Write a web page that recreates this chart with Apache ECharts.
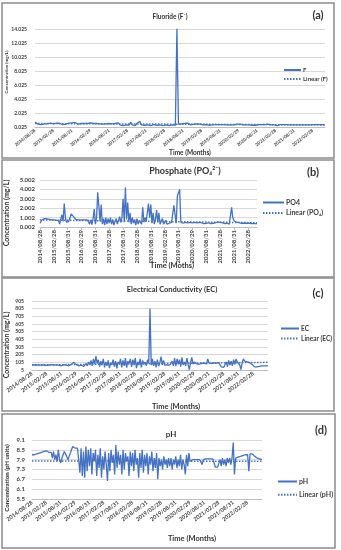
<!DOCTYPE html>
<html>
<head>
<meta charset="utf-8">
<script src="https://cdn.jsdelivr.net/npm/echarts@6/dist/echarts.min.js"></script>
<style>html,body{margin:0;padding:0;background:#fff;}#c{width:341px;height:550px;}</style>
</head>
<body>
<div id="c"></div>
<script>
const tickLabels = ['2014/08/28','2015/02/28','2015/08/31','2016/02/29','2016/08/31','2017/02/28','2017/08/31','2018/02/28','2018/08/31','2019/02/28','2019/08/31','2020/02/29','2020/08/31','2021/02/28','2021/08/31','2022/02/28'];

const F = [
0.7,0.55,0.4,0.3,0.35,0.4,0.45,0.5,0.45,0.5,0.55,0.5,
0.45,0.5,0.55,0.7,0.5,0.4,0.35,0.3,0.4,0.5,0.55,0.5,
0.6,0.7,0.65,0.5,0.4,0.45,0.5,0.55,0.5,0.45,0.5,0.55,
0.6,0.55,0.5,0.45,0.5,0.4,0.45,0.5,0.4,0.35,0.45,0.4,
0.5,0.3,0.45,0.25,0.5,0.35,0.6,0.3,0.45,0.2,0.4,0.3,
0.5,0.25,0.7,0.3,0.45,0.2,0.5,0.35,0.8,0.3,0.45,0.25,
0.5,0.3,0.4,0.2,0.45,0.35,0.5,0.25,0.4,0.3,0.45,0.2,
0.4,0.3,0.45,0.2,0.4,0.3,0.35,0.25,14.02,0.4,0.3,0.45,
0.35,0.5,0.4,0.55,0.45,0.3,0.5,0.4,0.35,0.45,0.3,0.4,
0.35,0.3,0.4,0.35,0.3,0.25,0.35,0.3,0.4,0.35,0.3,0.35,
0.4,0.35,0.3,0.35,0.4,0.3,0.35,0.3,0.25,0.3,0.35,0.4,
0.45,0.4,0.35,0.3,0.25,0.3,0.35,0.3,0.3,0.25,0.2,0.25,
0.3,0.35,0.4,0.35,0.3,0.35,0.45,0.4,0.35,0.3,0.35,0.3,
0.25,0.2,0.3,0.35,0.3,0.35,0.4,0.35,0.3,0.3,0.35,0.3,
0.25,0.3,0.35,0.3,0.25,0.3,0.35,0.3,0.25,0.3,0.35,0.3,
0.3,0.35,0.3,0.35,0.4,0.35,0.3,0.35,0.3];
const trendF = [0.5, 0.3];

const PO4 = [
0.4,0.6,0.8,0.9,0.9,0.85,0.85,0.8,0.8,0.8,0.75,0.75,
0.75,0.7,0.7,0.7,0.7,0.3,0.2,1.3,0.6,2.5,1.0,0.5,
0.3,0.6,1.0,1.4,1.3,1.1,0.9,0.8,0.8,0.75,0.7,0.75,
0.8,0.75,0.7,0.75,0.8,0.75,0.7,0.3,0.75,0.25,0.9,1.9,
0.3,1.0,3.7,2.2,0.6,2.4,0.3,0.9,0.2,1.0,0.3,0.9,
0.4,1.0,0.3,0.8,0.2,0.6,0.9,0.3,0.7,1.1,0.5,1.0,
3.0,0.5,4.2,0.8,2.6,0.5,1.5,0.3,1.0,0.4,0.8,0.2,
0.9,0.3,0.7,0.5,0.3,2.1,0.5,1.0,0.6,0.4,2.5,1.0,
2.4,0.4,1.5,0.3,0.8,1.8,0.5,1.5,0.3,0.6,0.9,0.3,
0.5,0.7,0.3,0.5,0.4,0.3,0.5,0.3,2.3,2.5,0.4,3.3,
3.4,4.0,0.5,0.3,0.4,0.35,0.5,0.3,0.45,0.35,0.5,0.3,
0.45,0.4,0.5,0.35,0.45,0.4,0.5,0.35,0.45,0.4,0.35,0.45,
0.4,0.35,0.45,0.4,0.35,0.45,0.4,0.5,0.45,0.4,0.55,0.75,
0.5,0.4,0.45,0.4,0.35,0.45,0.4,0.35,0.3,0.4,2.1,1.0,
0.7,0.55,0.5,0.45,0.5,0.45,0.4,0.45,0.4,0.35,0.4,0.45,
0.4,0.35,0.4,0.45,0.35,0.4,0.35,0.3,0.35];
const trendPO4 = [0.75, 0.45];

const EC = [
75,72,70,68,70,72,68,65,70,72,70,68,
65,60,70,72,75,70,68,72,75,70,65,55,
60,70,75,72,70,65,60,70,80,95,105,90,
75,65,60,55,70,60,50,75,90,60,110,70,
130,60,150,80,185,90,140,50,120,70,150,40,
110,60,130,30,100,70,140,50,120,25,110,80,
150,40,130,60,160,35,120,90,150,45,140,70,
160,30,110,70,150,40,130,80,110,60,140,90,
805,70,150,60,120,40,140,55,100,180,70,130,
70,75,70,72,68,70,120,60,160,55,150,80,
140,50,170,70,110,60,160,75,10,100,170,80,
110,90,85,95,80,100,90,85,95,90,85,150,
95,90,92,95,98,100,95,100,102,100,45,55,
40,60,110,50,130,70,120,60,140,80,150,110,
130,70,10,100,150,120,140,110,105,100,95,80,
60,45,40,45,50,52,55,58,55,60,62,60,
62];
const trendEC = [70, 105];

const PH = [
8.2,8.2,8.2,8.22,8.25,8.28,8.3,8.32,8.35,8.38,8.4,8.42,
8.44,8.4,8.35,8.3,8.35,8.0,8.4,7.9,8.2,7.8,8.5,7.9,
7.7,8.0,8.1,8.4,8.3,8.1,7.9,8.1,8.3,8.5,8.7,8.65,
8.6,8.55,8.6,8.5,7.1,8.6,6.9,8.4,6.8,8.7,7.2,8.5,
7.5,8.6,7.0,8.3,7.8,8.5,6.9,8.2,7.4,8.6,6.8,8.1,
7.3,8.4,7.6,6.6,8.3,7.2,8.5,7.7,8.2,7.0,8.8,7.4,
8.4,7.6,8.2,7.0,8.5,7.3,8.3,7.8,8.1,6.9,8.4,7.5,
8.3,7.2,8.5,7.6,8.0,6.8,8.3,7.4,8.5,7.1,8.2,7.5,
8.3,7.0,8.1,7.6,8.4,7.2,8.0,7.4,8.3,6.7,8.0,7.5,
7.9,7.3,8.1,7.6,7.9,7.4,8.0,7.5,8.0,7.3,7.9,7.6,
8.1,7.4,7.9,7.5,8.2,7.3,7.9,7.6,7.0,8.2,7.5,8.3,
7.8,7.9,7.9,7.9,7.9,7.9,7.9,7.9,7.9,7.9,7.6,7.9,
7.95,7.95,7.95,7.95,7.95,7.95,7.95,7.95,7.95,7.45,7.45,7.45,
7.45,7.9,7.5,8.0,7.6,7.9,7.5,8.0,7.7,8.0,7.6,8.0,
8.95,7.0,8.0,8.05,8.05,8.1,8.1,8.1,8.15,8.15,8.2,8.2,
8.2,7.2,8.25,8.3,8.25,8.2,8.1,8.05,8.0,8.0,7.95,7.95,
7.9];
const trendPH = [7.82, 7.8];

const FONT = 'Lato';
const BLUE = '#4472C4';
const TXT = '#404040';

function cats(n){ return Array.from({length:n},(_, i)=> (i%12===0 && tickLabels[i/12]) ? tickLabels[i/12] : ''); }
function trend(n, t){ const a = new Array(n).fill(null); a[0]=t[0]; a[n-1]=t[1]; return a; }

const grids = [
  {left:35, right:16, top:29, height:98},
  {left:40, right:84, top:180, height:47},
  {left:32, right:73, top:301, height:69},
  {left:32, right:79, top:440, height:59}
];
// axis ranges; label offset shifts the printed tick text (Excel-style odd baselines)
const yCfg = [
  {min:0, max:14, interval:2, fmt:v=>(v+0.025).toFixed(3), fs:5, margin:8},
  {min:0, max:5, interval:1, fmt:v=>(v+0.002).toFixed(3), fs:6, margin:5},
  {min:5, max:905, interval:100, fmt:v=>String(Math.round(v)), fs:5, margin:8},
  {min:5.5, max:9.1, interval:0.6, fmt:v=>v.toFixed(1), fs:6, margin:7}
];
const xCfg = [
  {n:F.length, rot:38, fs:4.5, margin:3, tick:false},
  {n:PO4.length, rot:90, fs:6, margin:3, tick:true},
  {n:EC.length, rot:36, fs:5.5, margin:3, tick:false},
  {n:PH.length, rot:36, fs:5.5, margin:3, tick:false}
];

const xAxis = xCfg.map((c,i)=>({
  type:'category', gridIndex:i, data:cats(c.n), boundaryGap:false,
  axisLine:{show:true, lineStyle:{color:'#bfbfbf', width:1}},
  axisTick:{show:c.tick, interval:11, length:3, lineStyle:{color:'#bfbfbf'}},
  axisLabel:{interval:11, rotate:c.rot, fontSize:c.fs, fontFamily:FONT, fontWeight:'bold', color:TXT, margin:c.margin}
}));
const yAxis = yCfg.map((c,i)=>({
  type:'value', gridIndex:i, min:c.min, max:c.max, interval:c.interval,
  axisLine:{show:false}, axisTick:{show:false},
  splitLine:{lineStyle:{color:'#d9d9d9', width:1}},
  axisLabel:{formatter:c.fmt, fontSize:c.fs, fontFamily:FONT, fontWeight:'bold', color:TXT, margin:c.margin}
}));

const dataSets = [
  {name:'F', tname:'Linear (F)', d:F, t:trendF},
  {name:'PO4', tname:'Linear (PO\u2084)', d:PO4, t:trendPO4},
  {name:'EC', tname:'Linear (EC)', d:EC, t:trendEC},
  {name:'pH', tname:'Linear (pH)', d:PH, t:trendPH}
];
const series = [];
dataSets.forEach((s,i)=>{
  series.push({type:'line', name:s.name, xAxisIndex:i, yAxisIndex:i, data:s.d, symbol:'none', showSymbol:false,
    lineStyle:{color:BLUE, width:1.3}, itemStyle:{color:BLUE}, animation:false, z:2});
  series.push({type:'line', name:s.tname, xAxisIndex:i, yAxisIndex:i, data:trend(s.d.length, s.t), connectNulls:true,
    symbol:'none', showSymbol:false, lineStyle:{color:BLUE, width:1.5, type:[1.5,1.5]}, itemStyle:{color:BLUE}, animation:false, z:3});
});

const legCfg = [
  {left:283, top:67, w:17, h:6, gap:3, fs:6},
  {left:262, top:199, w:21, h:7, gap:3.5, fs:7},
  {left:280, top:325, w:18, h:6, gap:3, fs:6.5},
  {left:277, top:478, w:19, h:7, gap:6.3, fs:7}
];
const legend = legCfg.map((c,i)=>({
  data:[dataSets[i].name, dataSets[i].tname], orient:'vertical', left:c.left, top:c.top,
  itemWidth:c.w, itemHeight:c.h, itemGap:c.gap, padding:0, selectedMode:false,
  itemStyle:{opacity:0, borderWidth:0},
  textStyle:{fontSize:c.fs, fontFamily:FONT, fontWeight:'bold', color:TXT, padding:[0,0,0,-3]}
}));

function txt(x,y,text,size,rot){
  return {type:'text', x:x, y:y, rotation:rot||0, silent:true,
    style:{text:text, fontSize:size, fontFamily:FONT, fontWeight:'bold', fill:'#333', align:'center', verticalAlign:'middle'}};
}
function box(x,y,w,h){
  return {type:'rect', shape:{x:x,y:y,width:w,height:h}, silent:true, z:-1,
    style:{fill:'none', stroke:'#8c8c8c', lineWidth:1.5}};
}
const graphic = [
  box(2,3,332,155), box(2,160,332,117), box(2,278,332,133), box(2,414,333,134),
  txt(170,17,'Fluoride (F\u207B)',6.5), txt(318,15,'(a)',11),
  txt(185,171,'Phosphate (PO\u2084\u00B2\u207B)',9), txt(313,172,'(b)',11),
  txt(172,290,'Electrical Conductivity (EC)',7.5), txt(318,293,'(c)',11),
  txt(171,434,'pH',8), txt(321,430,'(d)',11),
  txt(7,72,'Concentration (mg/L)',4.5,Math.PI/2),
  txt(7,213,'Concentration (mg/L)',7,Math.PI/2),
  txt(7,345,'Concentration (mg/L)',7,Math.PI/2),
  txt(7,478,'Concentration (pH units)',6.2,Math.PI/2),
  txt(190,153,'Time (Months)',6.5),
  txt(172,266,'Time (Moths)',7.5),
  txt(176,407,'Time (Months)',7.5),
  txt(192,539,'Time (Months)',7.5)
];

const chart = echarts.init(document.getElementById('c'), null, {renderer:'canvas'});
chart.setOption({animation:false, grid:grids, xAxis:xAxis, yAxis:yAxis, series:series, legend:legend, graphic:graphic});
</script>
</body>
</html>
